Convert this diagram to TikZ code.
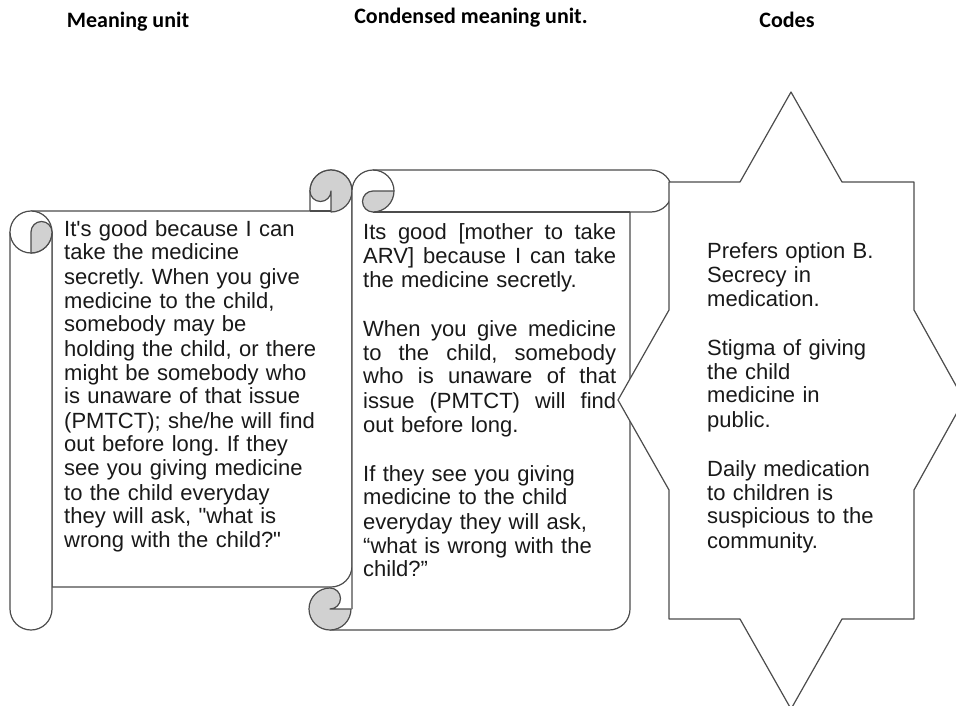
\documentclass[tikz,border=0pt]{standalone}
\usepackage{fontspec}
\setmainfont{Liberation Sans}[Ligatures=TeXOff]
\newfontfamily\headfont{Carlito}
\newcommand\bodyfont{\fontsize{22}{24}\selectfont\frenchspacing\setlength{\lineskiplimit}{-30pt}\relax}
\newcommand\fullline[1]{\makebox[253pt][s]{\spaceskip=.278em plus 1fil\relax #1}}
\begin{document}
\begin{tikzpicture}
[x=1pt,y=-1pt,line join=round]
\tikzstyle{rim}=[draw=black!70,line width=1.2pt]
\tikzstyle{scroll}=[rim,fill=white]
\tikzstyle{curl}=[rim,fill=black!18]
\tikzstyle{heading}=[font=\headfont\bfseries\fontsize{22}{26}\selectfont,anchor=base,inner sep=0pt]
\tikzstyle{body}=[font=\bodyfont,anchor=base west,inner sep=0pt,text=black!90]
\useasboundingbox (0,0) rectangle (956,706);
% meaning unit scroll
\path[scroll] (31,211) -- (310,211) -- (310,191) arc[start angle=180,end angle=360,radius=21] -- (352,566) arc[start angle=0,end angle=90,radius=21] -- (52,587) -- (52,232);
\path[scroll] (10,232) -- (10,609) arc[start angle=180,end angle=0,radius=21] -- (52,232);
\path[scroll] (31,232) circle[radius=21];
\path[curl] (31,253) -- (31,232) arc[start angle=180,end angle=360,radius=10.5] arc[start angle=0,end angle=90,radius=21] -- cycle;
\path[curl] (310,191) arc[start angle=180,end angle=360,radius=21] arc[start angle=0,end angle=90,radius=21] -- (331,191) arc[start angle=0,end angle=180,radius=10.5] -- cycle;
\draw[rim] (310,211) -- (331,211);
% condensed scroll
\path[scroll] (352,609) -- (352,191) arc[start angle=180,end angle=270,radius=21] -- (651,170) arc[start angle=270,end angle=450,radius=21] -- (630,212) -- (630,609) arc[start angle=0,end angle=90,radius=21] -- (330,630);
\draw[rim] (373,212) -- (630,212);
\draw[rim] (373,170) arc[start angle=270,end angle=360,radius=21];
\path[curl] (373,191) -- (394,191) arc[start angle=0,end angle=90,radius=21] arc[start angle=90,end angle=270,radius=10.5] -- cycle;
\path[curl] (330,588) arc[start angle=270,end angle=0,radius=21] -- (330,609) arc[start angle=90,end angle=-90,radius=10.5] -- cycle;
% codes star
\path[scroll] (669,182) -- (740,182) -- (791,92) -- (842,182) -- (914,182) -- (914,310) -- (964,400) -- (914,490) -- (914,619) -- (842,619) -- (791,709) -- (740,619) -- (669,619) -- (669,490) -- (618,400) -- (669,310) -- cycle;
\node[heading] (hMeaning) at (128,28) {Meaning unit};
\node[heading] (hCondensed) at (471,24) {Condensed meaning unit.};
\node[heading] (hCodes) at (787,28) {Codes};
\node[body,text width=270pt] (meaningText) at (64,236) {It's good because I can\\ take the medicine\\ secretly. When you give\\ medicine to the child,\\ somebody may be\\ holding the child, or there\\ might be somebody who\\ is unaware of that issue\\ (PMTCT); she/he will find\\ out before long. If they\\ see you giving medicine\\ to the child everyday\\ they will ask, "what is\\ wrong with the child?"};
\node[body,text width=253pt] (condensedText) at (363,239) {\fullline{Its good [mother to take}\\ \fullline{ARV] because I can take}\\ the medicine secretly.\\[25pt] \fullline{When you give medicine}\\ \fullline{to the child, somebody}\\ \fullline{who is unaware of that}\\ \fullline{issue (PMTCT) will find}\\ out before long.\\[25pt] If they see you giving\\ medicine to the child\\ everyday they will ask,\\ “what is wrong with the\\ child?”};
\node[body,text width=200pt] (codesText) at (707,258) {Prefers option B.\\ Secrecy in\\ medication.\\[25pt] Stigma of giving\\ the child\\ medicine in\\ public.\\[25pt] Daily medication\\ to children is\\ suspicious to the\\ community.};
\end{tikzpicture}
\end{document}
